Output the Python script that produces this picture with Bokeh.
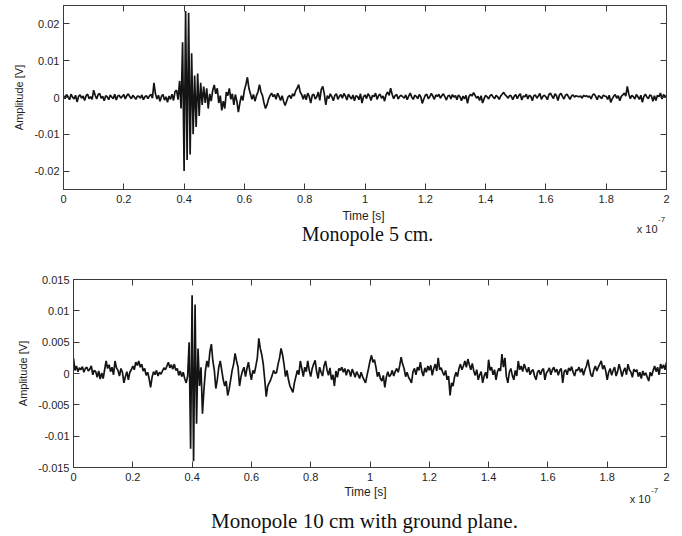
import numpy as np
from bokeh.plotting import figure
from bokeh.models import FixedTicker, LinearAxis, Range1d
from bokeh.core.properties import value
from bokeh.embed import file_html
from bokeh.resources import INLINE

# ---------------- data ----------------
# sample step of the recorded traces, in units of 1e-7 s
sample_step = 0.005

# Monopole 5 cm, amplitude in mV, one value per sample (0 .. 2e-7 s)
top_amp_mv = [
    0.5, -0.3, 0.8, 0.2, -0.6, 0.9, 0.1, -0.4, 0.6, -1.2, 0.3, 0.7, -0.2, 0.4, -0.8, 0.5, 0.9, -0.3, 0.2, -0.5,
    2.0, 0.6, -0.4, 0.8, 1.1, -0.2, 0.3, -0.9, 0.5, 0.2, -0.6, 0.7, 0.1, -0.3, 0.9, -0.7, 0.4, 0.6, -0.2, 0.3,
    0.8, -0.4, 0.5, 1.0, 0.2, -0.3, 0.6, 0.1, -0.5, 0.4, 0.3, -0.2, 0.7, -0.6, 0.2, 0.5, -0.3, 0.4, 0.9, -0.2,
    4.0, 1.0, -0.4, 0.6, -1.0, 0.3, 0.8, -0.7, 0.2, -1.3, 0.4, -0.5, 0.9, -0.8, 1.6, 2.0, -0.6, 4.5, -3.0, 15.0,
    -20.0, 23.5, -17.0, 23.0, -15.5, 12.0, -10.0, 6.0, -8.0, 6.5, -5.0, 4.0, -2.0, 3.0, -1.5, 2.5, -3.0, 1.0, -1.0, 2.0,
    3.4, 1.0, 2.5, -1.5, 0.5, -3.5, -1.0, -3.0, 1.5, 0.5, 2.5, -0.5, 1.0, -2.0, 0.8, -1.0, -4.0, -1.5, 0.5, -0.8,
    2.0, 3.5, 5.5, 2.5, 1.0, -0.5, 0.8, -1.0, 0.5, 1.5, 3.5, 1.5, 0.5, -1.5, -3.0, -2.0, -0.5, 0.5, 1.2, 0.2,
    0.8, -0.5, 1.2, 0.3, -0.8, 0.5, -1.0, -2.2, -1.0, 0.2, 0.6, -0.3, 1.0, 0.4, 1.8, 2.5, 3.5, 1.5, 0.8, -0.5,
    0.8, -0.6, 1.2, 0.3, -1.5, 0.6, 0.9, -0.4, 0.2, 1.5, -0.8, 2.2, 3.0, 1.0, -2.0, 0.5, -0.3, 1.0, 0.2, -0.9,
    0.6, 1.0, -0.5, 0.3, 0.8, -0.2, 1.1, 0.4, -0.7, 0.9, 0.2, -0.4, 0.7, -0.9, 0.5, 0.3, -0.6, 1.0, -1.5, 0.2,
    0.7, -0.3, 1.0, 0.4, -0.8, 0.6, 0.2, 1.2, -0.5, 0.5, 0.9, -0.2, 0.4, -1.0, 0.8, 1.5, 0.6, 2.5, 0.9, -0.3,
    0.5, 0.8, -0.4, 0.3, 0.6, 0.2, -0.2, 0.7, -0.6, 0.4, 1.2, 0.1, -0.5, 0.6, 0.3, -0.3, 0.8, 0.2, -1.6, -0.4,
    0.6, 0.9, -0.3, 0.2, 1.1, 0.4, -0.5, 0.7, 0.3, 0.9, -0.2, 0.5, 1.0, 0.2, -0.7, 0.4, 0.6, -0.4, 0.8, 0.1,
    0.5, -0.6, 0.7, 0.2, -0.9, 0.4, -0.4, 0.6, -1.6, 0.3, 0.9, 0.4, 1.3, 0.6, -0.2, 0.3, -0.8, 0.5, -1.5, -0.3,
    0.6, 0.2, -0.4, 0.5, 0.8, 0.1, -0.3, 0.6, 0.2, -0.5, 0.4, 0.9, 1.4, 0.7, 0.3, -0.2, 0.6, 0.4, -0.6, 0.3,
    0.8, -0.3, 0.5, 1.0, -0.7, 0.4, 0.2, 0.9, -0.4, 0.6, 0.3, -0.9, 0.5, 0.7, -0.2, 0.4, 1.1, -0.5, 0.3, 0.6,
    0.2, -0.6, 0.8, 1.2, 0.4, -0.3, 1.0, 0.5, -0.8, 0.7, 1.1, 0.3, -0.4, 0.6, 0.9, 0.2, -0.5, 0.4, 0.7, 0.1,
    0.5, 0.3, 0.2, 0.4, -0.2, 0.6, 0.3, 0.5, 0.1, 0.4, -0.4, 0.7, 1.0, 0.3, -0.6, 0.5, 0.2, -0.3, 0.6, 0.4,
    0.3, -0.5, 0.6, -1.3, -0.4, 0.4, 0.8, -0.2, 0.5, -0.9, 0.3, 0.7, 1.2, 0.4, 3.0, 0.9, -0.3, 0.6, 0.2, -0.4,
    0.8, 0.2, -0.5, 0.6, -1.3, 0.3, 0.9, 0.1, -0.3, 0.7, 0.4, -1.0, 0.5, -0.8, 0.6, 0.2, 1.2, -0.4, 0.8, 0.3,
    0.5,
]

# Monopole 10 cm with ground plane, amplitude in mV
bottom_amp_mv = [
    2.4, 0.5, 1.2, 0.3, 0.9, 0.6, 1.1, 0.2, 0.8, 1.0, 0.4, 0.7, 1.2, -0.2, 0.5, 0.3, -0.6, 0.4, -0.9, 0.1,
    -0.8, 0.6, 2.0, 0.8, 1.4, 0.3, 1.0, -0.2, 2.0, 0.9, 0.5, -0.4, 0.8, 0.2, -1.5, -0.5, 0.3, -1.0, 0.2, 0.6,
    1.2, 0.6, 1.8, 1.3, 2.0, 1.0, 1.5, 0.4, 0.8, -0.3, 0.2, -0.8, -2.2, -0.6, 0.3, -0.2, 0.5, -0.4, 0.2, -0.1,
    0.4, 0.9, 0.6, 1.2, 1.8, 0.9, 1.4, 0.7, 1.5, 0.5, 0.8, -0.3, 0.4, -0.5, 0.2, -0.8, -1.5, -0.4, 5.0, -12.0,
    12.5, -14.0, 11.0, -8.0, 4.0, -2.0, 1.0, -6.4, -2.5, 0.5, 2.0, 1.0, 3.5, 4.7, 2.0, 0.5, -2.4, -1.0, 1.0, 2.0,
    0.5, -1.0, -2.0, -1.2, -3.5, -2.5, -1.0, 0.5, 1.5, 3.2, 2.0, 1.0, -2.0, -0.5, 0.4, 1.0, -0.5, 0.8, 1.8, 0.2,
    -1.0, 0.5, 0.0, 1.2, 2.5, 5.6, 4.0, 3.0, 1.5, -1.0, -3.7, -2.0, -1.5, -1.0, -0.3, 0.5, 0.0, 0.2, 1.5, 2.5,
    4.0, 3.0, 1.5, -0.5, 0.5, -1.0, -2.0, -2.5, -3.0, -1.5, -0.5, 0.5, -0.2, 2.0, 0.8, -0.5, 1.0, 0.3, 2.0, 0.5,
    -0.5, 0.8, 1.5, 2.1, 0.3, -0.8, 1.0, 0.2, -0.4, 1.2, 2.0, 0.6, -0.3, 0.9, -1.0, -0.2, -2.0, 0.4, -0.6, 0.8,
    0.5, 1.0, 0.2, 0.8, -0.3, 0.6, 0.4, -0.5, 0.7, 0.1, -0.6, 0.3, -0.2, -0.8, 0.2, -0.5, -1.0, -1.5, -0.3, 0.8,
    2.0, 2.9, 1.8, 2.2, 1.0, -0.5, 0.2, -0.8, -1.2, -0.3, -2.2, -0.6, 0.3, -0.5, -0.2, 0.5, -0.4, 0.3, 0.8, 0.2,
    1.2, 2.6, 1.5, 0.8, -0.5, 0.2, -0.6, -1.0, -1.5, 0.3, 0.8, -0.2, 1.0, 0.5, 1.8, 0.3, -0.4, 0.9, 0.2, 1.2,
    0.5, 1.3, -0.3, 0.8, 1.5, 0.4, 2.5, 0.6, 0.9, 0.2, -0.3, 0.5, -1.0, -0.4, -3.5, -1.5, -2.0, -0.6, 0.2, -0.5,
    0.8, 1.5, 0.6, 1.2, 2.0, 1.0, 2.3, 1.4, 0.6, 1.6, 0.4, -0.3, 0.6, -1.0, -0.2, 0.3, -1.5, -0.4, 0.2, -0.8,
    2.2, 0.5, 1.0, -0.2, 0.6, -1.0, 0.3, 0.8, 0.4, 3.1, 1.0, 2.5, -0.5, -1.5, 0.2, 0.8, -0.3, -1.0, 0.5, -0.4,
    2.0, 0.6, 1.2, 0.3, 1.5, 0.8, 0.2, 1.0, -0.2, 0.4, 0.6, -0.4, -1.0, 0.2, 0.5, -0.2, 0.5, 0.8, -1.0, 0.1,
    0.4, 0.9, -0.2, 0.6, 1.0, 0.2, 0.7, -0.3, 0.5, 0.8, -1.5, 0.3, 0.6, -0.2, 0.9, 0.4, 1.1, 0.2, -0.4, 0.6,
    0.5, 1.0, 0.2, 0.8, -0.3, 0.6, 1.2, 2.2, 0.9, -0.2, -0.5, 0.6, 1.2, 0.4, 1.0, 1.5, 2.0, 0.7, 1.3, 0.4,
    -1.0, 0.2, 0.8, -0.3, 0.5, 1.0, -0.4, 0.3, 1.5, 0.6, -0.5, 0.4, 0.9, -0.2, 1.5, 0.6, 0.2, -0.6, 0.7, 0.3,
    0.6, -0.5, 0.2, -0.8, 0.4, -0.3, 0.1, -0.6, -1.2, 0.2, -0.4, 0.5, 1.2, 0.3, 1.0, -0.2, 1.5, 0.8, 1.4, 0.6,
    1.8,
]

x_ticks = [0, 0.2, 0.4, 0.6, 0.8, 1, 1.2, 1.4, 1.6, 1.8, 2]
x_tick_labels = ["0", "0.2", "0.4", "0.6", "0.8", "1", "1.2", "1.4", "1.6", "1.8", "2"]
top_y_ticks = [-0.02, -0.01, 0, 0.01, 0.02]
top_y_tick_labels = ["-0.02", "-0.01", "0", "0.01", "0.02"]
bottom_y_ticks = [-0.015, -0.01, -0.005, 0, 0.005, 0.01, 0.015]
bottom_y_tick_labels = ["-0.015", "-0.01", "-0.005", "0", "0.005", "0.01", "0.015"]
captions = ["Monopole 5 cm.", "Monopole 10 cm with ground plane."]
x_label = "Time [s]"
y_label = "Amplitude [V]"
x_multiplier = ["x 10", "-7"]

SANS = "Liberation Sans"
SERIF = "Liberation Serif"
FRAME = "#3a3a3a"
TXT = "#1e1e1e"


def make_plot(amp_mv, y_lo, y_hi, y_ticks, y_tick_labels, height, border_left, border_top, border_bottom):
    t = [i * sample_step for i in range(len(amp_mv))]
    v = [a / 1000.0 for a in amp_mv]
    p = figure(width=682, height=height, x_range=Range1d(0, 2), y_range=Range1d(y_lo, y_hi),
               output_backend="svg", toolbar_location=None,
               min_border_left=border_left, min_border_right=16,
               min_border_top=border_top, min_border_bottom=border_bottom)
    p.background_fill_color = "white"
    p.border_fill_color = "white"
    p.outline_line_color = FRAME
    p.outline_line_width = 1
    p.xgrid.visible = False
    p.ygrid.visible = False

    p.line(t, v, line_color="#141414", line_width=1.7)

    xa = p.xaxis[0]
    xa.ticker = FixedTicker(ticks=x_ticks)
    xa.major_label_overrides = dict(zip(x_ticks, x_tick_labels))
    ya = p.yaxis[0]
    ya.ticker = FixedTicker(ticks=y_ticks)
    ya.major_label_overrides = dict(zip(y_ticks, y_tick_labels))
    ya.axis_label = y_label
    for ax in (xa, ya):
        ax.major_tick_in = 6
        ax.major_tick_out = 0
        ax.minor_tick_line_color = None
        ax.axis_line_color = FRAME
        ax.major_tick_line_color = FRAME
        ax.major_label_text_font = SANS
        ax.major_label_text_font_size = "11px"
        ax.major_label_text_color = TXT
        ax.axis_label_text_font = SANS
        ax.axis_label_text_font_size = "11px"
        ax.axis_label_text_font_style = "normal"
        ax.axis_label_text_color = TXT
    xa.major_label_standoff = 5
    ya.major_label_standoff = 4
    ya.axis_label_standoff = 6

    top_ax = LinearAxis(ticker=FixedTicker(ticks=x_ticks),
                        major_label_overrides={k: "" for k in x_ticks})
    right_ax = LinearAxis(ticker=FixedTicker(ticks=y_ticks),
                          major_label_overrides={k: "" for k in y_ticks})
    for ax in (top_ax, right_ax):
        ax.major_tick_in = 6
        ax.major_tick_out = 0
        ax.minor_tick_line_color = None
        ax.axis_line_color = FRAME
        ax.major_tick_line_color = FRAME
        ax.major_label_text_font_size = "0px"
        ax.major_label_standoff = 0
    p.add_layout(top_ax, "above")
    p.add_layout(right_ax, "right")
    return p


def make_strip(height, label_x, label_base, mult_x, mult_base, sup_base, caption, cap_x, cap_base, cap_size):
    # text strip below a plot: x axis label, x10^-7 multiplier and caption (pixel coordinates)
    s = figure(width=682, height=height, x_range=Range1d(0, 682), y_range=Range1d(height, 0),
               output_backend="svg", toolbar_location=None, x_axis_type=None, y_axis_type=None,
               min_border=0, min_border_left=0, min_border_right=0, min_border_top=0, min_border_bottom=0)
    s.outline_line_color = None
    s.background_fill_color = "white"
    s.border_fill_color = "white"
    s.grid.visible = False
    s.text(x=[label_x], y=[label_base], text=[x_label], text_font=value(SANS),
           text_font_size="12px", text_align="center", text_baseline="alphabetic", text_color=TXT)
    s.text(x=[mult_x], y=[mult_base], text=[x_multiplier[0]], text_font=value(SANS),
           text_font_size="11px", text_align="right", text_baseline="alphabetic", text_color=TXT)
    s.text(x=[mult_x + 0.5], y=[sup_base], text=[x_multiplier[1]], text_font=value(SANS),
           text_font_size="8px", text_align="left", text_baseline="alphabetic", text_color=TXT)
    s.text(x=[cap_x], y=[cap_base], text=[caption], text_font=value(SERIF),
           text_font_size=cap_size, text_align="center", text_baseline="alphabetic", text_color="#111111")
    return s


p_top = make_plot(top_amp_mv, -0.025, 0.025, top_y_ticks, top_y_tick_labels, 208, 63, 5, 19)
s_top = make_strip(47, 363, 7, 657, 20, 11, captions[0], 367, 25, "20px")
p_bot = make_plot(bottom_amp_mv, -0.015, 0.015, bottom_y_ticks, bottom_y_tick_labels, 230, 73, 24, 18)
s_bot = make_strip(51, 365, 6, 650, 13, 5, captions[1], 364, 35, "21px")

open("out.html", "w").write(file_html([p_top, s_top, p_bot, s_bot], INLINE))
